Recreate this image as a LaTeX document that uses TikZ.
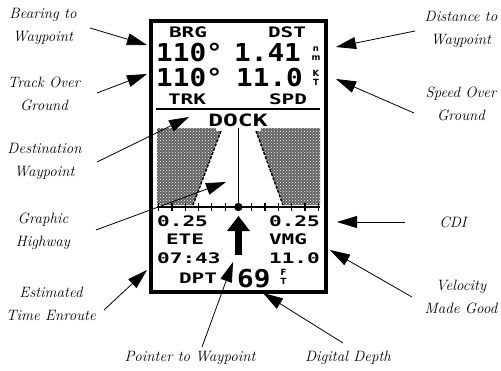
\documentclass[tikz,border=0pt]{standalone}
\usepackage{fontspec}
\usetikzlibrary{arrows.meta,patterns}
\newfontfamily\lcdbig[FakeStretch=1.12]{DejaVu Sans Mono}
\newfontfamily\lcdwide[FakeStretch=1.45]{DejaVu Sans Mono}
\newfontfamily\lcdunit{DejaVu Sans}
\begin{document}
\begin{tikzpicture}[x=1pt,y=-1pt,
  lbl/.style={font=\fontsize{15}{23}\selectfont\itshape, align=center, inner sep=0pt},
  ptr/.style={line width=0.8pt, -{Triangle[length=20pt,width=12pt]}},
  lcds/.style={font=\lcdwide\bfseries\fontsize{14.5}{15}\selectfont, inner sep=0pt},
  lcdm/.style={font=\lcdwide\bfseries\fontsize{17}{18}\selectfont, inner sep=0pt},
  lcdb/.style={font=\lcdbig\bfseries\fontsize{24.7}{26}\selectfont, inner sep=0pt},
  unit/.style={font=\lcdunit\bfseries\fontsize{8.5}{9.2}\selectfont, inner sep=0pt, align=center},
  shade/.style={fill=black!62, postaction={pattern=crosshatch dots, pattern color=white}},
  edge/.style={line width=1.4pt, dash pattern=on 3pt off 1.5pt}]
\useasboundingbox (0,0) rectangle (501,370);

% screen
\node (screen) [draw, line width=2.6pt, minimum width=176pt, minimum height=272pt, inner sep=0pt] at (238.5,156.5) {};
\draw[line width=0.6pt] ([shift={(3.3,3.3)}]screen.north west) rectangle ([shift={(-3.3,-3.3)}]screen.south east);

% top fields
\node[lcds, anchor=base] (brg) at (188,37) {BRG};
\node[lcds, anchor=base] (dst) at (287,37) {DST};
\node[lcdb, anchor=base west] (bearing) at (156,61) {110°};
\node[lcdb, anchor=base west] (dist) at (234,61) {1.41};
\node[unit] (unm) at (316,53.5) {n\\m};
\node[lcdb, anchor=base west] (track) at (156,86) {110°};
\node[lcdb, anchor=base west] (speed) at (236,86) {11.0};
\node[unit] (ukt) at (316,77.5) {K\\T};
\node[lcds, anchor=base] (trk) at (187,104) {TRK};
\node[lcds, anchor=base] (spd) at (288,104) {SPD};
\draw[line width=1.6pt] (156,109) -- (320,109);
\node[lcdm, anchor=base] (dock) at (238,126) {DOCK};

% highway
\fill[shade] (157,128) -- (216,128) -- (216,131) -- (221,131) -- (193,205) -- (157,205) -- cycle;
\fill[shade] (320,128) -- (261,128) -- (261,131) -- (256,131) -- (283,205) -- (320,205) -- cycle;
\draw[edge] (221,131) -- (193,205);
\draw[edge] (256,131) -- (283,205);
\draw[line width=1.5pt] (238.4,128) -- (238.4,207);
\draw[line width=1.5pt] (157,207) -- (320,207);
\foreach \k in {1,...,6} {
  \draw[line width=1.2pt] (238.4-13.3*\k,203) -- (238.4-13.3*\k,211);
  \draw[line width=1.2pt] (238.4+13.3*\k,203) -- (238.4+13.3*\k,211);
}
\fill (238.4,207) circle (4.2pt);

% bottom fields
\node[lcds, anchor=base west] (cdil) at (157,226) {0.25};
\node[lcds, anchor=base east] (cdir) at (320,226) {0.25};
\node[lcds, anchor=base] (ete) at (185,244) {ETE};
\node[lcds, anchor=base] (vmg) at (288,244) {VMG};
\node[lcds, anchor=base west] (etev) at (157,263) {07:43};
\node[lcds, anchor=base east] (vmgv) at (320,263) {11.0};
\node[lcds, anchor=base] (dpt) at (198,283) {DPT};
\node[lcdb, anchor=base west] (depth) at (237,287) {69};
\node[unit, anchor=west] (uft) at (280.5,277) {F\\T};

% pointer
\fill (235,255) rectangle (242,229);
\fill (227,231) -- (250,231) -- (238.5,216) -- cycle;

% labels
\node[lbl] (l1) at (43,26.5) {Bearing to\\Waypoint};
\node[lbl] (l2) at (44,93.5) {Track Over\\Ground};
\node[lbl] (l3) at (44.5,161) {Destination\\Waypoint};
\node[lbl] (l4) at (43,231) {Graphic\\Highway};
\node[lbl] (l5) at (51,304) {Estimated\\Time Enroute};
\node[lbl] (r1) at (461,29.5) {Distance to\\Waypoint};
\node[lbl] (r2) at (461,103.5) {Speed Over\\Ground};
\node[lbl] (r3) at (453,222) {CDI};
\node[lbl] (r4) at (461,296.5) {Velocity\\Made Good};
\node[lbl] (b1) at (190,358) {Pointer to Waypoint};
\node[lbl] (b2) at (348,358) {Digital Depth};

% connector ends
\coordinate (s1) at (90,28);   \coordinate (t1) at (147,45);
\coordinate (s2) at (97,93);   \coordinate (t2) at (147,74);
\coordinate (s3) at (97,162);  \coordinate (t3) at (189,117);
\coordinate (s4) at (96,230);  \coordinate (t4) at (226,182);
\coordinate (s5) at (104,310); \coordinate (t5) at (147,270);
\coordinate (s6) at (415,31);  \coordinate (t6) at (336,47);
\coordinate (s7) at (414,113); \coordinate (t7) at (336,79);
\coordinate (s8) at (405,222); \coordinate (t8) at (337,222);
\coordinate (s9) at (412,297); \coordinate (t9) at (330,250);
\coordinate (s10) at (202,347); \coordinate (t10) at (233,262);
\coordinate (s11) at (343,343); \coordinate (t11) at (263,293);

\foreach \i in {1,...,11} { \draw[ptr] (s\i) -- (t\i); }
\end{tikzpicture}
\end{document}
